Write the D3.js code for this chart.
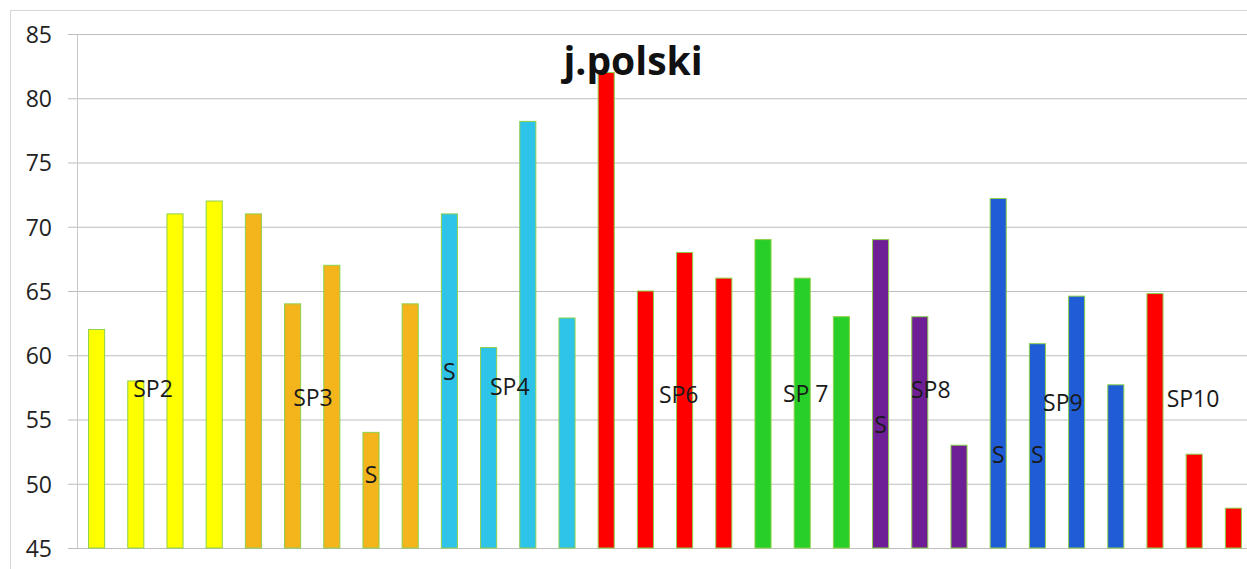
<!DOCTYPE html>
<html>
<head>
<meta charset="utf-8">
<script src="https://cdn.jsdelivr.net/npm/d3@7"></script>
<style>
  html, body { margin: 0; padding: 0; background: #fff; }
  svg { display: block; }
</style>
</head>
<body>
<svg id="chart" width="1247" height="569"></svg>
<script>
// ---- data ----
const title = "j.polski";
const categories = d3.range(1, 31).map(String);
const values = [62, 58, 71, 72, 71, 64, 67, 54, 64, 71, 60.6, 78.2, 62.9, 82, 65, 68, 66, 69, 66, 63, 69, 63, 53, 72.2, 60.9, 64.6, 57.7, 64.8, 52.3, 48.1];
const groups = ["yellow","yellow","yellow","yellow",
                "orange","orange","orange","orange","orange",
                "cyan","cyan","cyan","cyan",
                "red","red","red","red",
                "green","green","green",
                "purple","purple","purple",
                "blue","blue","blue","blue",
                "red","red","red"];
const yTicks = [45, 50, 55, 60, 65, 70, 75, 80, 85];
const annoText  = ["SP2", "SP3", "S", "S", "SP4", "SP6", "SP 7", "S", "SP8", "S", "S", "SP9", "SP10"];
const annoAt    = [1.44, 5.52, 7.0, 9.0, 10.54, 14.85, 18.09, 20.0, 21.28, 23.0, 24.0, 24.65, 27.97];
const annoValue = [56.75, 56.05, 50.05, 58.1, 56.9, 56.3, 56.4, 53.95, 56.7, 51.6, 51.6, 55.7, 56.0];

// ---- styles ----
const palette = {
  yellow: "#ffff00", orange: "#f3b41c", cyan: "#2ec4ea", red: "#ff0000",
  green: "#28cf28", purple: "#6e1f96", blue: "#1f5cd6"
};
const font = "'Open Sans', 'Noto Sans', sans-serif";

const svg = d3.select("#chart");
const W = 1247, H = 569;
const plot = { left: 77, right: 1253, top: 34, bottom: 548 };

// frame of chart area
svg.append("line").attr("x1", 10).attr("x2", W).attr("y1", 10.5).attr("y2", 10.5)
  .attr("stroke", "#d6d6d6").attr("stroke-width", 1);
svg.append("line").attr("x1", 10.5).attr("x2", 10.5).attr("y1", 10).attr("y2", H)
  .attr("stroke", "#d6d6d6").attr("stroke-width", 1);

const y = d3.scaleLinear().domain([45, 85]).range([plot.bottom, plot.top]);
const x = d3.scaleBand().domain(categories).range([plot.left, plot.right])
  .paddingInner(0.59).paddingOuter(0.295);

// gridlines + y axis
const yAxis = d3.axisLeft(y).tickValues(yTicks)
  .tickSize(-(plot.right - plot.left) - 9).tickSizeOuter(0).tickPadding(16);
const gy = svg.append("g").attr("transform", `translate(${plot.left},0)`).call(yAxis);
gy.select(".domain").remove();
gy.selectAll(".tick line").attr("stroke", "#bdbdbd").attr("x1", -9)
  .attr("x2", plot.right - plot.left);
gy.selectAll(".tick text").attr("font-family", font).attr("font-size", 23)
  .attr("fill", "#222").attr("x", -25).attr("dy", "0.36em");

// vertical axis line
svg.append("line").attr("x1", plot.left + 0.5).attr("x2", plot.left + 0.5)
  .attr("y1", plot.top).attr("y2", plot.bottom).attr("stroke", "#c8c8c8");

// bars
svg.append("g").selectAll("rect").data(values).join("rect")
  .attr("x", (d, i) => x(categories[i]))
  .attr("width", x.bandwidth())
  .attr("y", d => y(d))
  .attr("height", d => y(45) - y(d))
  .attr("fill", (d, i) => palette[groups[i]])
  .attr("stroke", "#8ed04a").attr("stroke-width", 1);

// annotations
const step = x.step();
const x0 = x(categories[0]) + x.bandwidth() / 2;
svg.append("g").selectAll("text").data(annoText).join("text")
  .attr("x", (d, i) => x0 + annoAt[i] * step)
  .attr("y", (d, i) => y(annoValue[i]))
  .attr("text-anchor", "middle")
  .attr("font-family", font).attr("font-size", 23)
  .attr("fill", "#1a1a1a")
  .text(d => d);

// title
svg.append("text").attr("x", 633).attr("y", 75)
  .attr("text-anchor", "middle")
  .attr("font-family", font).attr("font-weight", "bold").attr("font-size", 39)
  .attr("fill", "#111")
  .text(title);
</script>
</body>
</html>
